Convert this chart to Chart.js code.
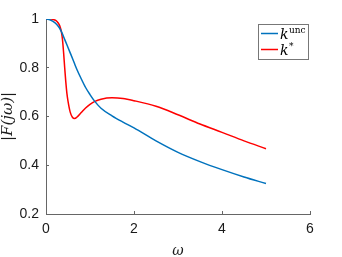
<!DOCTYPE html>
<html>
<head>
<meta charset="utf-8">
<script src="https://cdn.jsdelivr.net/npm/chart.js@4/dist/chart.umd.min.js"></script>
<style>
  html, body { margin: 0; padding: 0; background: #fff; }
  #wrap { width: 342px; height: 257px; }
</style>
</head>
<body>
<div id="wrap"><canvas id="freq_plot_canvas"></canvas></div>
<script>
// |F(jw)| unconstrained
const omegaUnc = [0, 0.1, 0.2, 0.25, 0.3, 0.35, 0.4, 0.45, 0.5, 0.55, 0.6, 0.65, 0.7, 0.8, 0.9,
    1.0, 1.1, 1.25, 1.5, 1.75, 2, 2.5, 3, 3.5, 4, 4.5, 5];
const magUnc = [1.0, 0.996, 0.985, 0.976, 0.965, 0.948, 0.927, 0.905, 0.883, 0.861, 0.839, 0.816, 0.794, 0.755, 0.719,
    0.69, 0.664, 0.634, 0.603, 0.577, 0.553, 0.50, 0.453, 0.415, 0.382, 0.352, 0.325];

// |F(jw)| optimal
const omegaOpt = [0, 0.1, 0.2, 0.25, 0.3, 0.325, 0.35, 0.375, 0.4, 0.425, 0.45, 0.475, 0.5, 0.55, 0.6, 0.65, 0.7,
    0.8, 0.9, 1.0, 1.1, 1.25, 1.5, 1.75, 2, 2.5, 3, 3.5, 4, 4.5, 5];
const magOpt = [1.0, 1.0, 0.996, 0.99, 0.977, 0.965, 0.947, 0.915, 0.862, 0.80, 0.742, 0.695, 0.663, 0.618, 0.597, 0.592, 0.597,
    0.616, 0.635, 0.650, 0.661, 0.671, 0.677, 0.674, 0.665, 0.642, 0.607, 0.569, 0.535, 0.50, 0.468];

const xTicks = [0, 2, 4, 6];
const yTicks = [0.2, 0.4, 0.6, 0.8, 1];

const legendBase = ['k', 'k'];
const legendSup = ['unc', '*'];

function toPoints(xs, ys) {
    return xs.map(function(x, i) { return {x: x, y: ys[i]}; });
}

// legend box in the top right corner
const boxLegend = {
    id: 'boxLegend',
    afterDraw: function(chart) {
        const ctx = chart.ctx;
        const x0 = 258, y0 = 24, w = 50, h = 35;
        ctx.save();
        ctx.fillStyle = '#fff';
        ctx.fillRect(x0, y0, w, h);
        ctx.strokeStyle = '#777';
        ctx.lineWidth = 1;
        ctx.strokeRect(x0 + 0.5, y0 + 0.5, w, h);
        chart.data.datasets.forEach(function(ds, i) {
            const ly = y0 + 9.5 + i * 16;
            ctx.strokeStyle = ds.borderColor;
            ctx.lineWidth = 1.5;
            ctx.beginPath();
            ctx.moveTo(x0 + 3, ly);
            ctx.lineTo(x0 + 20, ly);
            ctx.stroke();
            ctx.fillStyle = '#000';
            ctx.textBaseline = 'alphabetic';
            ctx.textAlign = 'left';
            ctx.font = 'italic 14px "DejaVu Serif"';
            ctx.fillText(legendBase[i], x0 + 22, ly + 5);
            const bw = ctx.measureText(legendBase[i]).width;
            ctx.font = '9px "DejaVu Serif"';
            ctx.fillText(legendSup[i], x0 + 22 + bw + 0.5, ly - 1);
        });
        ctx.restore();
    }
};

const freqPlot = document.getElementById('freq_plot_canvas');
const freqChart = new Chart(freqPlot, {
    type: 'scatter',
    data: {
        datasets: [{
            label: 'k^unc',
            data: toPoints(omegaUnc, magUnc),
            showLine: true,
            borderColor: '#0072BD',
            borderWidth: 1.5,
            pointRadius: 0,
            cubicInterpolationMode: 'monotone',
            fill: false
        }, {
            label: 'k^*',
            data: toPoints(omegaOpt, magOpt),
            showLine: true,
            borderColor: '#FF0000',
            borderWidth: 1.5,
            pointRadius: 0,
            cubicInterpolationMode: 'monotone',
            fill: false
        }]
    },
    options: {
        responsive: true,
        maintainAspectRatio: false,
        animation: false,
        layout: {
            padding: { top: 19, right: 32, left: 0, bottom: 0 }
        },
        scales: {
            x: {
                type: 'linear',
                min: 0,
                max: 6,
                afterBuildTicks: function(scale) {
                    scale.ticks = xTicks.map(function(v) { return {value: v}; });
                },
                afterFit: function(scale) { scale.height = 43; },
                grid: {
                    display: true,
                    drawOnChartArea: false,
                    tickLength: -3,
                    color: '#666'
                },
                border: { display: true, color: '#666' },
                ticks: {
                    padding: 10,
                    color: '#1a1a1a',
                    font: { family: 'Liberation Sans', size: 14 },
                    maxRotation: 0
                },
                title: {
                    display: true,
                    text: 'ω',
                    color: '#1a1a1a',
                    font: { family: 'DejaVu Serif', size: 14, style: 'italic', lineHeight: 0.8 },
                    padding: { top: 0, bottom: 0 }
                }
            },
            y: {
                type: 'linear',
                min: 0.2,
                max: 1,
                afterBuildTicks: function(scale) {
                    scale.ticks = yTicks.map(function(v) { return {value: v}; });
                },
                afterFit: function(scale) { scale.width = 46; },
                grid: {
                    display: true,
                    drawOnChartArea: false,
                    tickLength: -3,
                    color: '#666'
                },
                border: { display: true, color: '#666' },
                ticks: {
                    padding: 10,
                    color: '#1a1a1a',
                    font: { family: 'Liberation Sans', size: 14 },
                    callback: function(value) {
                        return String(Math.round(value * 10) / 10);
                    }
                },
                title: {
                    display: true,
                    text: '|F(jω)|',
                    color: '#1a1a1a',
                    font: { family: 'DejaVu Serif', size: 15, style: 'italic', lineHeight: 1.1 },
                    padding: { top: 0, bottom: 0 }
                }
            }
        },
        plugins: {
            legend: { display: false },
            tooltip: { enabled: false }
        }
    },
    plugins: [boxLegend]
});
</script>
</body>
</html>
